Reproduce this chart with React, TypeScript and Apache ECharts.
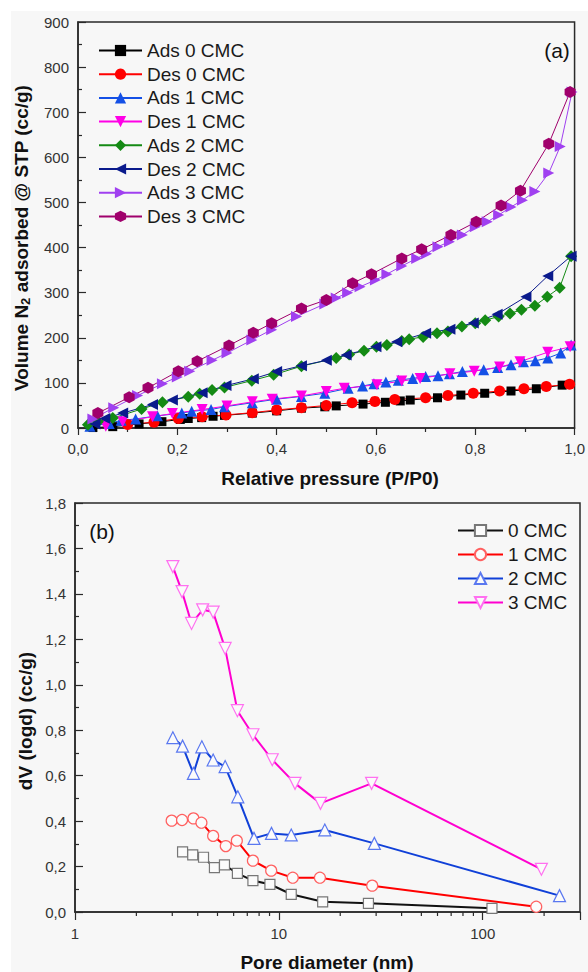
import { useEffect, useRef } from 'react';
import * as echarts from 'echarts';

// ---- (a) N2 isotherms: [P/P0, volume adsorbed (cc/g)] ----
const ads0CMC: [number, number][] = [
  [0.03, 1], [0.07, 3], [0.123, 9], [0.169, 14], [0.206, 19], [0.222, 21], [0.249, 23], [0.272, 26],
  [0.295, 28], [0.351, 33], [0.4, 38], [0.45, 44], [0.497, 47], [0.52, 49], [0.574, 53], [0.619, 57],
  [0.649, 60], [0.669, 62], [0.724, 67], [0.771, 73], [0.819, 77], [0.872, 82], [0.923, 87], [0.975, 95],
];
const des0CMC: [number, number][] = [
  [0.1, 8], [0.153, 13], [0.202, 21], [0.25, 25], [0.298, 29], [0.351, 34], [0.4, 40], [0.45, 45],
  [0.5, 50], [0.552, 56], [0.598, 59], [0.638, 63], [0.7, 67], [0.745, 72], [0.796, 77], [0.849, 82],
  [0.898, 87], [0.943, 92], [0.99, 97],
];
const ads1CMC: [number, number][] = [
  [0.024, 4], [0.063, 10], [0.087, 17], [0.116, 20], [0.16, 27], [0.209, 33], [0.229, 37], [0.268, 41],
  [0.295, 47], [0.351, 56], [0.4, 64], [0.45, 70], [0.497, 77], [0.544, 88], [0.573, 93], [0.596, 98],
  [0.62, 102], [0.645, 106], [0.674, 110], [0.7, 114], [0.725, 116], [0.748, 120], [0.774, 125],
  [0.817, 129], [0.845, 134], [0.872, 140], [0.897, 147], [0.921, 149], [0.946, 155], [0.972, 166],
  [0.993, 184],
];
const des1CMC: [number, number][] = [
  [0.056, 4], [0.09, 14], [0.15, 25], [0.19, 32], [0.25, 41], [0.3, 49], [0.351, 58], [0.391, 64],
  [0.45, 71], [0.5, 81], [0.536, 88], [0.602, 96], [0.652, 104], [0.689, 110], [0.749, 120],
  [0.798, 126], [0.849, 135], [0.89, 147], [0.946, 168], [0.991, 180],
];
const ads2CMC: [number, number][] = [
  [0.02, 7], [0.04, 14], [0.07, 22], [0.128, 42], [0.17, 57], [0.222, 69], [0.245, 76], [0.27, 84],
  [0.295, 90], [0.35, 105], [0.394, 118], [0.45, 137], [0.52, 155], [0.546, 163], [0.576, 171],
  [0.601, 180], [0.622, 184], [0.652, 193], [0.667, 197], [0.695, 202], [0.723, 210], [0.745, 214],
  [0.773, 225], [0.8, 232], [0.82, 239], [0.847, 247], [0.87, 254], [0.893, 262], [0.92, 271],
  [0.945, 291], [0.97, 311], [0.993, 381],
];
const des2CMC: [number, number][] = [
  [0.034, 9], [0.054, 21], [0.09, 33], [0.15, 52], [0.19, 62], [0.25, 78], [0.298, 94], [0.353, 109],
  [0.4, 125], [0.45, 138], [0.5, 150], [0.54, 162], [0.6, 180], [0.642, 191], [0.7, 210], [0.749, 219],
  [0.796, 233], [0.844, 252], [0.902, 291], [0.946, 337], [0.993, 381],
];
const ads3CMC: [number, number][] = [
  [0.03, 20], [0.072, 45], [0.12, 72], [0.17, 98], [0.2, 113], [0.225, 126], [0.27, 150], [0.3, 166],
  [0.35, 195], [0.39, 218], [0.44, 247], [0.497, 275], [0.52, 288], [0.543, 300], [0.568, 313],
  [0.599, 328], [0.622, 341], [0.652, 359], [0.682, 376], [0.702, 386], [0.725, 402], [0.748, 413],
  [0.774, 428], [0.8, 446], [0.824, 457], [0.847, 472], [0.872, 490], [0.895, 505], [0.92, 524],
  [0.948, 565], [0.971, 624], [0.995, 745],
];
const des3CMC: [number, number][] = [
  [0.04, 33], [0.103, 68], [0.141, 89], [0.202, 126], [0.24, 148], [0.304, 183], [0.353, 211],
  [0.39, 232], [0.45, 265], [0.5, 284], [0.553, 321], [0.591, 341], [0.652, 376], [0.692, 396],
  [0.751, 428], [0.802, 457], [0.852, 493], [0.891, 526], [0.948, 630], [0.991, 745],
];

// ---- (b) pore size distribution: [pore diameter (nm), dV(logd) (cc/g)] ----
const psd0CMC: [number, number][] = [
  [3.37, 0.265], [3.78, 0.251], [4.27, 0.241], [4.83, 0.195], [5.41, 0.207], [6.26, 0.17],
  [7.46, 0.138], [9.04, 0.122], [11.5, 0.078], [16.4, 0.045], [27.5, 0.038], [111, 0.016],
];
const psd1CMC: [number, number][] = [
  [2.98, 0.402], [3.35, 0.405], [3.81, 0.412], [4.17, 0.393], [4.76, 0.335], [5.49, 0.29],
  [6.22, 0.314], [7.46, 0.226], [9.17, 0.182], [11.7, 0.151], [15.9, 0.151], [28.7, 0.116], [183, 0.023],
];
const psd2CMC: [number, number][] = [
  [3.02, 0.767], [3.37, 0.73], [3.81, 0.61], [4.19, 0.727], [4.76, 0.669], [5.45, 0.64],
  [6.29, 0.507], [7.55, 0.324], [9.2, 0.346], [11.5, 0.339], [16.8, 0.361], [29.4, 0.302], [238, 0.072],
];
const psd3CMC: [number, number][] = [
  [3.02, 1.52], [3.35, 1.41], [3.73, 1.27], [4.23, 1.33], [4.76, 1.32], [5.45, 1.16], [6.26, 0.886],
  [7.46, 0.78], [9.28, 0.67], [12.0, 0.566], [16.0, 0.478], [28.5, 0.566], [194, 0.188],
];

const poreMinorTicks = [2, 3, 4, 5, 6, 7, 8, 9, 20, 30, 40, 50, 60, 70, 80, 90, 200];
const poreLabelTicks = [1, 10, 100];

const isoNames = ['Ads 0 CMC', 'Des 0 CMC', 'Ads 1 CMC', 'Des 1 CMC', 'Ads 2 CMC', 'Des 2 CMC', 'Ads 3 CMC', 'Des 3 CMC'];
const psdNames = ['0 CMC', '1 CMC', '2 CMC', '3 CMC'];

const FONT = '"Liberation Sans", Arial, Helvetica, sans-serif';
const AXIS = '#2a2a2a';

const TRI_DOWN = 'path://M0,0L2,0L1,1.8Z';
const TRI_LEFT = 'path://M0,1L1.8,0L1.8,2Z';
const TRI_RIGHT = 'path://M0,0L1.8,1L0,2Z';
const HEXAGON = 'path://M1,0L2,0.55L2,1.65L1,2.2L0,1.65L0,0.55Z';

const commaFixed = (v: number) => v.toFixed(1).replace('.', ',');

function isoSeries(name: string, data: [number, number][], color: string, symbol: string, size: number | number[]) {
  return {
    name,
    type: 'line',
    xAxisIndex: 0,
    yAxisIndex: 0,
    data,
    symbol,
    symbolSize: size,
    clip: false,
    itemStyle: { color },
    lineStyle: { color, width: 1 },
  };
}

function psdSeries(name: string, data: [number, number][], line: string, edge: string, symbol: string, size: number) {
  return {
    name,
    type: 'line',
    xAxisIndex: 1,
    yAxisIndex: 1,
    data,
    symbol,
    symbolSize: size,
    showAllSymbol: true,
    clip: false,
    itemStyle: { color: '#fbfbfb', borderColor: edge, borderWidth: 1.2 },
    lineStyle: { color: line, width: 2 },
  };
}

const axisLineStyle = { color: AXIS, width: 1.5 };
const tickLabel = { fontSize: 15, color: '#333', fontFamily: FONT };

export default function App() {
  const ref = useRef<HTMLDivElement>(null);

  useEffect(() => {
    if (!ref.current) return;
    const chart = echarts.init(ref.current, undefined, { renderer: 'svg' });

    const option = {
      animation: false,
      backgroundColor: '#f7f7f7',
      textStyle: { fontFamily: FONT },
      grid: [
        { left: 78, top: 22, width: 504, height: 406, show: true, borderColor: AXIS, borderWidth: 1.5, backgroundColor: 'transparent' },
        { left: 75, top: 503, width: 505, height: 409, show: true, borderColor: AXIS, borderWidth: 1.5, backgroundColor: 'transparent' },
      ],
      xAxis: [
        {
          gridIndex: 0,
          type: 'value',
          min: 0,
          max: 1,
          interval: 0.2,
          axisLine: { show: true, onZero: false, lineStyle: axisLineStyle },
          axisTick: { show: true, length: 7, lineStyle: { color: AXIS, width: 1.2 } },
          minorTick: { show: true, splitNumber: 2, length: 4, lineStyle: { color: AXIS, width: 1.2 } },
          axisLabel: { ...tickLabel, margin: 13, formatter: (v: number) => commaFixed(v) },
          splitLine: { show: false },
        },
        {
          gridIndex: 1,
          type: 'log',
          logBase: 10,
          min: 1,
          max: 300,
          axisLine: { show: true, onZero: false, lineStyle: axisLineStyle },
          axisTick: { show: true, length: 8, lineStyle: { color: AXIS, width: 1.2 } },
          axisLabel: {
            ...tickLabel,
            margin: 14,
            formatter: (v: number) => (poreLabelTicks.includes(Math.round(v)) ? String(Math.round(v)) : ''),
          },
          splitLine: { show: false },
        },
      ],
      yAxis: [
        {
          gridIndex: 0,
          type: 'value',
          min: 0,
          max: 900,
          interval: 100,
          axisLine: { show: true, onZero: false, lineStyle: axisLineStyle },
          axisTick: { show: true, inside: true, length: 8, lineStyle: { color: AXIS, width: 1.2 } },
          minorTick: { show: true, splitNumber: 2, length: 4, lineStyle: { color: AXIS, width: 1.2 } },
          axisLabel: { ...tickLabel, margin: 9 },
          splitLine: { show: false },
        },
        {
          gridIndex: 1,
          type: 'value',
          min: 0,
          max: 1.8,
          interval: 0.2,
          axisLine: { show: true, onZero: false, lineStyle: axisLineStyle },
          axisTick: { show: true, inside: true, length: 8, lineStyle: { color: AXIS, width: 1.2 } },
          minorTick: { show: true, splitNumber: 2, length: 4, lineStyle: { color: AXIS, width: 1.2 } },
          axisLabel: { ...tickLabel, margin: 9, formatter: (v: number) => commaFixed(v) },
          splitLine: { show: false },
        },
      ],
      legend: [
        {
          data: isoNames,
          orient: 'vertical',
          left: 98,
          top: 41,
          padding: 0,
          itemWidth: 43,
          itemHeight: 14,
          itemGap: 4.7,
          textStyle: { fontSize: 19, lineHeight: 19, color: '#1a1a1a', fontFamily: FONT },
        },
        {
          data: psdNames,
          orient: 'vertical',
          left: 457,
          top: 521,
          padding: 0,
          itemWidth: 45,
          itemHeight: 14,
          itemGap: 5,
          textStyle: { fontSize: 19, lineHeight: 19, color: '#1a1a1a', fontFamily: FONT },
        },
      ],
      graphic: [
        { type: 'rect', silent: true, shape: { x: 0, y: 0, width: 588, height: 11 }, style: { fill: '#ffffff' } },
        { type: 'rect', silent: true, shape: { x: 0, y: 0, width: 11, height: 972 }, style: { fill: '#ffffff' } },
        {
          type: 'text',
          x: 21,
          y: 238,
          rotation: Math.PI / 2,
          style: {
            text: '{a|Volume N}{s|2}{a| adsorbed @ STP (cc/g)}',
            align: 'center',
            verticalAlign: 'middle',
            fill: '#111',
            rich: {
              a: { fontSize: 19, fontWeight: 'bold', fontFamily: FONT, fill: '#111', lineHeight: 22 },
              s: { fontSize: 13, fontWeight: 'bold', fontFamily: FONT, fill: '#111', lineHeight: 13, verticalAlign: 'bottom' },
            },
          },
        },
        {
          type: 'text',
          x: 330,
          y: 478,
          style: {
            text: 'Relative pressure (P/P0)',
            align: 'center',
            verticalAlign: 'middle',
            fontSize: 19,
            fontWeight: 'bold',
            fontFamily: FONT,
            fill: '#111',
          },
        },
        {
          type: 'text',
          x: 25,
          y: 721,
          rotation: Math.PI / 2,
          style: {
            text: 'dV (logd) (cc/g)',
            align: 'center',
            verticalAlign: 'middle',
            fontSize: 19,
            fontWeight: 'bold',
            fontFamily: FONT,
            fill: '#111',
          },
        },
        {
          type: 'text',
          x: 327,
          y: 962,
          style: {
            text: 'Pore diameter (nm)',
            align: 'center',
            verticalAlign: 'middle',
            fontSize: 19,
            fontWeight: 'bold',
            fontFamily: FONT,
            fill: '#111',
          },
        },
        {
          type: 'text',
          x: 557,
          y: 50,
          style: { text: '(a)', align: 'center', verticalAlign: 'middle', fontSize: 21, fontFamily: FONT, fill: '#111' },
        },
        {
          type: 'text',
          x: 102,
          y: 531,
          style: { text: '(b)', align: 'center', verticalAlign: 'middle', fontSize: 21, fontFamily: FONT, fill: '#111' },
        },
      ],
      series: [
        isoSeries('Ads 0 CMC', ads0CMC, '#000000', 'rect', 9),
        isoSeries('Des 0 CMC', des0CMC, '#ff0000', 'circle', 11),
        isoSeries('Ads 1 CMC', ads1CMC, '#1450e6', 'triangle', 11),
        isoSeries('Des 1 CMC', des1CMC, '#ff00e6', TRI_DOWN, 11),
        isoSeries('Ads 2 CMC', ads2CMC, '#148a14', 'diamond', 12),
        isoSeries('Des 2 CMC', des2CMC, '#0a1a8c', TRI_LEFT, 11),
        isoSeries('Ads 3 CMC', ads3CMC, '#a040f0', TRI_RIGHT, 11),
        isoSeries('Des 3 CMC', des3CMC, '#a0006c', HEXAGON, [11, 12]),
        psdSeries('0 CMC', psd0CMC, '#111111', '#777777', 'rect', 10),
        psdSeries('1 CMC', psd1CMC, '#ff0000', '#ff6060', 'circle', 11),
        psdSeries('2 CMC', psd2CMC, '#1040d8', '#5a78f0', 'triangle', 12),
        psdSeries('3 CMC', psd3CMC, '#ff00d0', '#ff70f0', TRI_DOWN, 12),
        {
          type: 'custom',
          xAxisIndex: 1,
          yAxisIndex: 1,
          silent: true,
          data: poreMinorTicks.map((v) => [v, 0]),
          renderItem: (_params: any, api: any) => {
            const p = api.coord([api.value(0), 0]);
            return {
              type: 'line',
              shape: { x1: p[0], y1: p[1], x2: p[0], y2: p[1] + 4 },
              style: { stroke: AXIS, lineWidth: 1.2 },
            };
          },
        },
      ],
    };

    chart.setOption(option as any);
    return () => chart.dispose();
  }, []);

  return <div ref={ref} style={{ position: 'absolute', left: 0, top: 0, width: 588, height: 972 }} />;
}
